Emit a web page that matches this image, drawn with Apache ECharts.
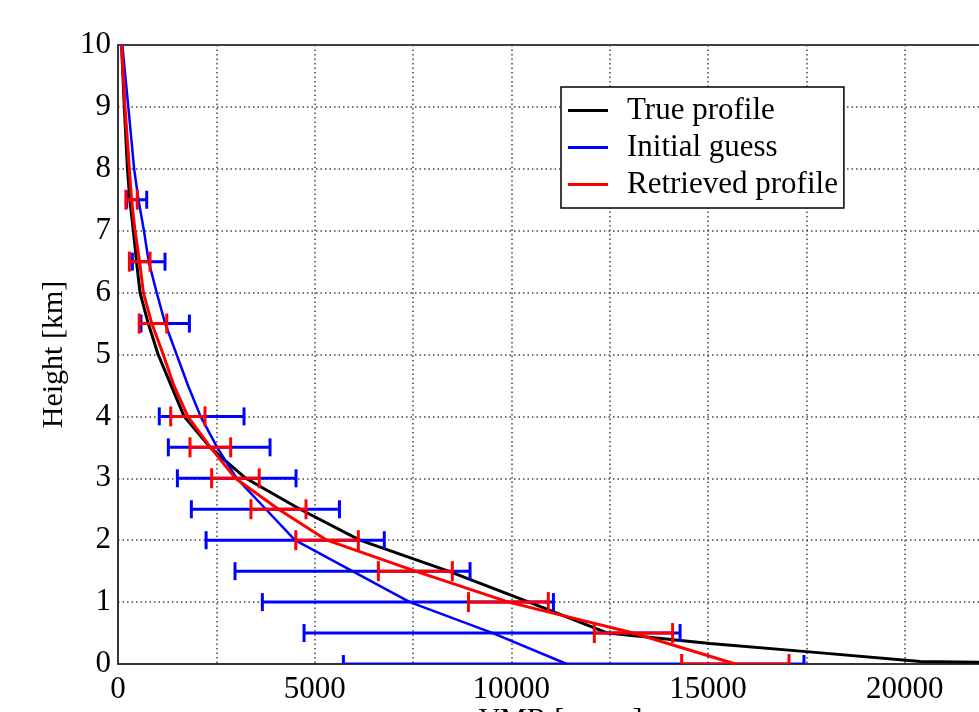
<!DOCTYPE html>
<html>
<head>
<meta charset="utf-8">
<script src="https://cdn.jsdelivr.net/npm/echarts@6/dist/echarts.min.js"></script>
<style>
  html, body { margin: 0; padding: 0; background: #fff; }
  #main { width: 979px; height: 712px; }
</style>
</head>
<body>
<div id="main"></div>
<script>
// profiles: height [km] vs VMR
var trueHeight = [0.03, 0.04, 0.2, 0.33, 0.5, 1, 1.5, 2, 2.5, 3, 3.5, 4, 4.5, 5, 5.5, 6, 6.5, 7, 7.5, 8, 9, 10];
var trueVmr = [21900, 20400, 17500, 15050, 12450, 10450, 8400, 6150, 4630, 3250, 2340, 1680, 1350, 1020, 770, 560, 470, 390, 300, 240, 160, 90];

var guessHeight = [0, 0.5, 1, 1.5, 2, 2.5, 3, 3.5, 4, 4.5, 5, 5.5, 6, 6.5, 7, 7.5, 8, 9, 10];
var guessVmr = [11410, 9530, 7420, 5960, 4500, 3760, 3020, 2520, 2100, 1780, 1490, 1200, 984, 780, 660, 520, 410, 262, 110];

var retrHeight = [0, 0.5, 1, 1.5, 2, 2.5, 3, 3.5, 4, 4.5, 5, 5.5, 6, 6.5, 7, 7.5, 8, 9, 10];
var retrVmr = [15700, 13100, 9930, 7560, 5310, 4080, 2985, 2350, 1775, 1420, 1150, 860, 645, 550, 432, 345, 288, 178, 90];

// error bars
var barHeight = [0, 0.5, 1, 1.5, 2, 2.5, 3, 3.5, 4, 5.5, 6.5, 7.5];
var guessLow = [5730, 4730, 3670, 2975, 2240, 1865, 1510, 1280, 1050, 585, 365, 220];
var guessHigh = [17440, 14290, 11070, 8950, 6770, 5630, 4526, 3865, 3204, 1815, 1195, 730];
var retrLow = [14330, 12110, 8910, 6620, 4520, 3380, 2380, 1830, 1340, 540, 290, 200];
var retrHigh = [17060, 14100, 10940, 8500, 6110, 4780, 3590, 2865, 2212, 1240, 815, 490];

var xTicks = [0, 5000, 10000, 15000, 20000];

function pairs(xs, ys) {
    return xs.map(function (x, i) { return [x, ys[i]]; });
}
function bars(lo, hi) {
    return barHeight.map(function (h, i) { return [h, lo[i], hi[i]]; });
}
function errorBar(color, cap) {
    return function (params, api) {
        var h = api.value(0);
        var a = api.coord([api.value(1), h]);
        var b = api.coord([api.value(2), h]);
        var st = { stroke: color, lineWidth: 3 };
        return {
            type: 'group',
            clipPath: { type: 'rect', shape: { x: params.coordSys.x, y: params.coordSys.y, width: params.coordSys.width, height: params.coordSys.height } },
            children: [
                { type: 'line', shape: { x1: a[0], y1: a[1], x2: b[0], y2: b[1] }, style: st },
                { type: 'line', shape: { x1: a[0], y1: a[1] - cap, x2: a[0], y2: a[1] + cap }, style: st },
                { type: 'line', shape: { x1: b[0], y1: b[1] - cap, x2: b[0], y2: b[1] + cap }, style: st }
            ]
        };
    };
}

var serif = 'Liberation Serif';
var myChart = echarts.init(document.getElementById('main'));

var option = {
    animation: false,
    backgroundColor: '#fff',
    grid: {
        left: 118, top: 45, bottom: 48, right: -24,
        outerBoundsMode: 'none',
        show: true, borderColor: '#000', borderWidth: 1.5
    },
    legend: {
        orient: 'vertical',
        left: 561, top: 87,
        padding: [8, 6, 8, 7],
        itemGap: 6,
        itemWidth: 40, itemHeight: 3,
        backgroundColor: '#fff',
        borderColor: '#000', borderWidth: 1.5,
        textStyle: { fontFamily: serif, fontSize: 31, color: '#000', padding: [0, 0, 0, 14] },
        data: [
            { name: 'True profile', icon: 'rect' },
            { name: 'Initial guess', icon: 'rect' },
            { name: 'Retrieved profile', icon: 'rect' }
        ]
    },
    xAxis: {
        type: 'value', min: 0, max: 22500, interval: 2500,
        name: 'VMR [ppmv]', nameLocation: 'middle', nameGap: 41,
        nameMoveOverlap: false,
        nameTextStyle: { fontFamily: serif, fontSize: 30, color: '#000', verticalAlign: 'top' },
        axisLine: { lineStyle: { color: '#333', width: 1.5 } },
        axisTick: { show: false },
        axisLabel: {
            fontFamily: serif, fontSize: 31, color: '#000', margin: 10,
            formatter: function (v) { return xTicks.indexOf(v) >= 0 ? String(v) : ''; }
        },
        splitLine: { lineStyle: { color: '#444', width: 1.5, type: [1.5, 3] } }
    },
    yAxis: {
        type: 'value', min: 0, max: 10, interval: 1,
        name: 'Height [km]', nameLocation: 'middle', nameGap: 48,
        nameTextStyle: { fontFamily: serif, fontSize: 30, color: '#000' },
        axisLine: { show: true, lineStyle: { color: '#333', width: 1.5 } },
        axisTick: { show: false },
        axisLabel: { fontFamily: serif, fontSize: 31, color: '#000', margin: 7 },
        splitLine: { lineStyle: { color: '#444', width: 1.5, type: [1.5, 3] } }
    },
    series: [
        {
            name: 'True profile', type: 'line', symbol: 'none', z: 2,
            lineStyle: { color: '#000', width: 3 }, itemStyle: { color: '#000' },
            data: pairs(trueVmr, trueHeight)
        },
        {
            name: 'Initial guess', type: 'line', symbol: 'none', z: 3,
            lineStyle: { color: '#0000ff', width: 2.5 }, itemStyle: { color: '#0000ff' },
            data: pairs(guessVmr, guessHeight)
        },
        {
            name: 'guess error', type: 'custom', z: 4,
            renderItem: errorBar('#0000ff', 9),
            encode: { x: [1, 2], y: 0 },
            data: bars(guessLow, guessHigh)
        },
        {
            name: 'Retrieved profile', type: 'line', symbol: 'none', z: 5,
            lineStyle: { color: '#ff0000', width: 3 }, itemStyle: { color: '#ff0000' },
            data: pairs(retrVmr, retrHeight)
        },
        {
            name: 'retrieved error', type: 'custom', z: 6,
            renderItem: errorBar('#ff0000', 10),
            encode: { x: [1, 2], y: 0 },
            data: bars(retrLow, retrHigh)
        }
    ]
};

myChart.setOption(option);
</script>
</body>
</html>
